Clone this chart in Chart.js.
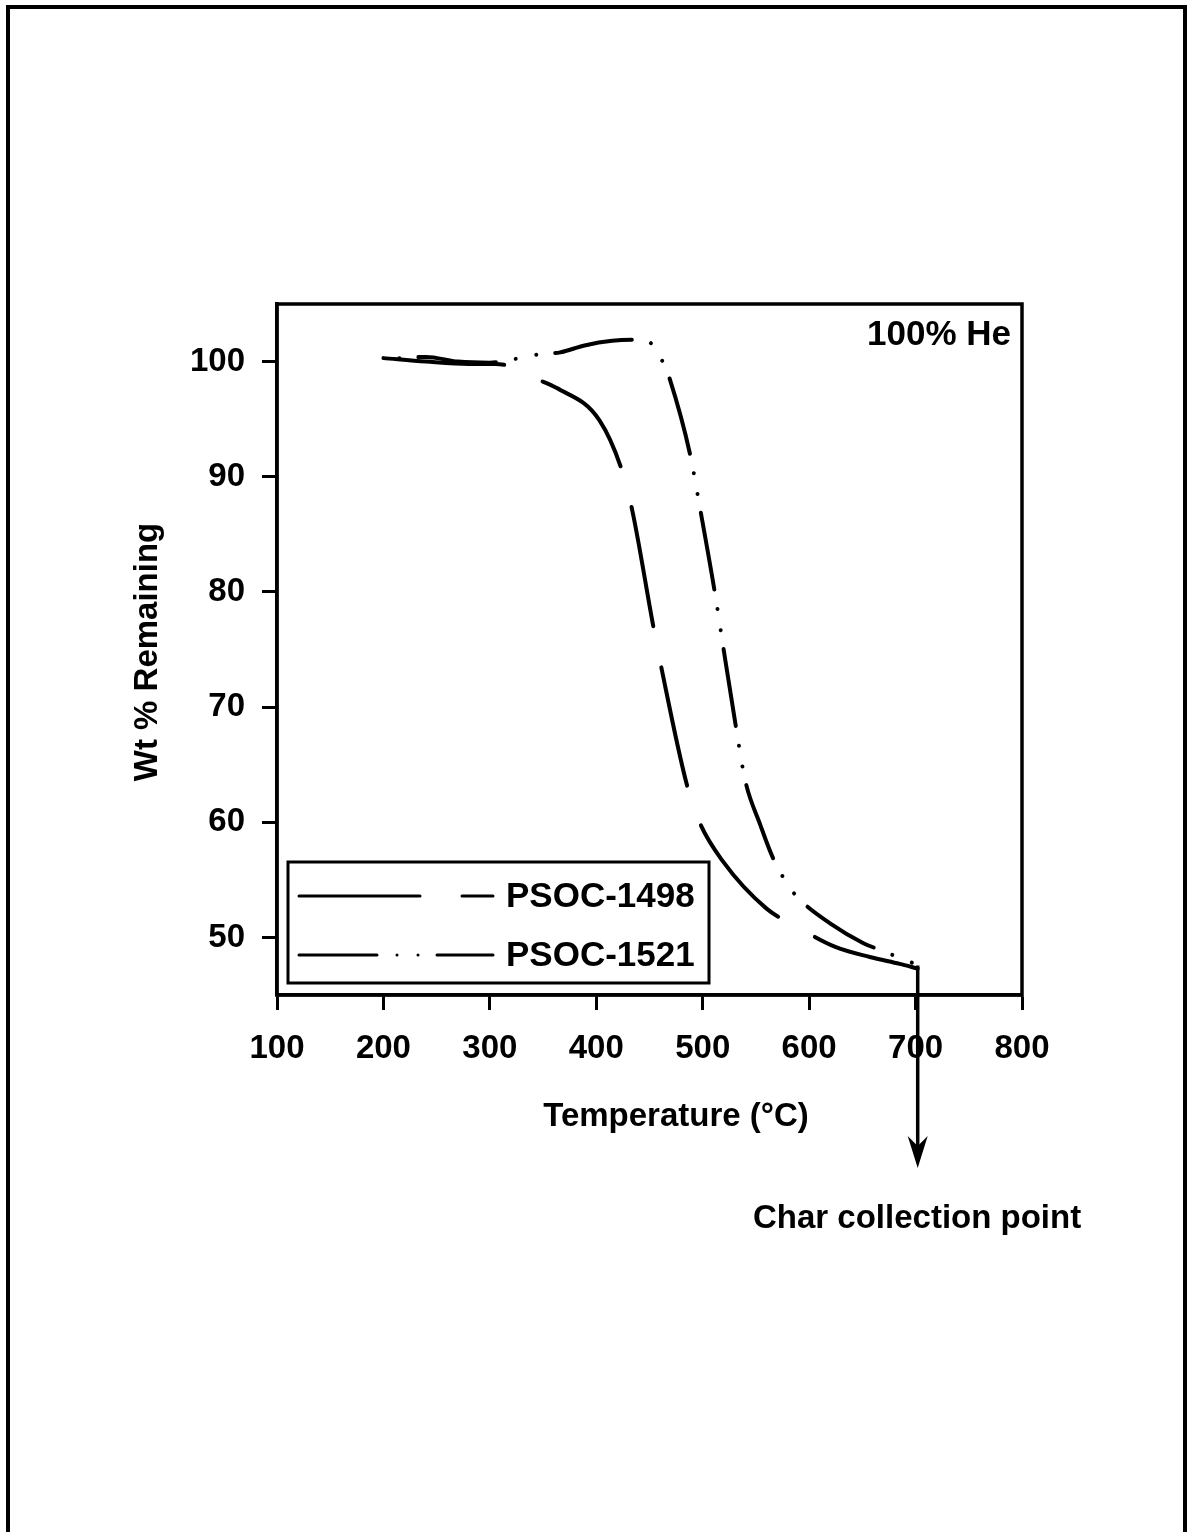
<!DOCTYPE html>
<html>
<head>
<meta charset="utf-8">
<script src="https://cdn.jsdelivr.net/npm/chart.js@4.4.0/dist/chart.umd.min.js"></script>
<style>
  html, body { margin: 0; padding: 0; background: #fff; }
  canvas { display: block; }
</style>
</head>
<body>
<canvas id="tga" width="1188" height="1532"></canvas>
<script>
// tick labels
const xTicks = [100, 200, 300, 400, 500, 600, 700, 800];
const yTicks = [50, 60, 70, 80, 90, 100];

// PSOC-1498 (long dash)
const temp1498 = [200, 240, 280, 305, 322, 341, 363, 403, 425, 434, 454, 461, 485, 497, 519, 560, 587, 624, 657, 685, 702];
const wt1498   = [100.3, 100.0, 99.8, 99.8, 99.5, 98.6, 97.7, 94.9, 90.3, 87.0, 76.8, 73.5, 63.3, 60.0, 56.6, 52.5, 51.0, 49.2, 48.3, 47.7, 47.3];

// PSOC-1521 (dash dot dot)
const temp1521 = [200, 240, 270, 300, 322, 344, 366, 389, 415, 440, 450, 457, 464, 469, 488, 498, 512, 520, 531, 540, 554, 566, 582, 591, 620, 651, 667, 702];
const wt1521   = [100.2, 100.4, 100.0, 99.9, 100.2, 100.6, 100.8, 101.4, 101.8, 101.9, 101.7, 100.8, 99.7, 98.5, 92.0, 87.0, 79.6, 74.8, 68.4, 63.6, 59.8, 56.9, 54.3, 53.3, 51.2, 49.5, 48.9, 47.6];

const seriesNames = ['PSOC-1498', 'PSOC-1521'];

const FONT = '"Liberation Sans", Arial, sans-serif';

function toPoints(xs, ys) {
  return xs.map((v, i) => ({ x: v, y: ys[i] }));
}

// frame, legend, labels and arrow
const extras = {
  id: 'extras',
  afterDraw(chart) {
    const { ctx, chartArea: a, scales: { x, y } } = chart;
    ctx.save();
    ctx.strokeStyle = '#000';
    ctx.fillStyle = '#000';

    // page frame
    ctx.lineWidth = 4;
    ctx.beginPath();
    ctx.moveTo(8, 1540);
    ctx.lineTo(8, 7);
    ctx.lineTo(1185, 7);
    ctx.lineTo(1185, 1540);
    ctx.stroke();

    // plot box
    ctx.lineWidth = 3.5;
    ctx.strokeRect(a.left, a.top, a.right - a.left, a.bottom - a.top);

    // legend
    ctx.lineWidth = 3;
    ctx.strokeRect(288, 862, 421, 121);
    ctx.font = 'bold 35px ' + FONT;
    ctx.textBaseline = 'middle';
    ctx.textAlign = 'left';
    const rows = [896, 955];
    chart.data.datasets.forEach((ds, i) => {
      ctx.save();
      ctx.lineWidth = ds.borderWidth;
      ctx.lineCap = 'round';
      ctx.setLineDash(ds.borderDash);
      ctx.beginPath();
      ctx.moveTo(299, rows[i]);
      ctx.lineTo(493, rows[i]);
      ctx.stroke();
      ctx.restore();
      ctx.fillText(ds.label, 506, rows[i] + 1);
    });

    // gas label
    ctx.textAlign = 'right';
    ctx.textBaseline = 'alphabetic';
    ctx.fillText('100% He', a.right - 11, 345);

    // axis titles
    ctx.font = 'bold 33px ' + FONT;
    ctx.textAlign = 'center';
    ctx.textBaseline = 'middle';
    ctx.fillText('Temperature (°C)', 676, 1117);
    ctx.save();
    ctx.translate(148, 652);
    ctx.rotate(-Math.PI / 2);
    ctx.fillText('Wt % Remaining', 0, 0);
    ctx.restore();

    // char collection arrow
    const ax = x.getPixelForValue(temp1521[temp1521.length - 1]);
    const ay = y.getPixelForValue(wt1498[wt1498.length - 1]);
    ctx.lineWidth = 3.5;
    ctx.beginPath();
    ctx.moveTo(ax, ay - 3);
    ctx.lineTo(ax, 1150);
    ctx.stroke();
    ctx.beginPath();
    ctx.moveTo(ax, 1168);
    ctx.lineTo(ax - 10, 1136);
    ctx.lineTo(ax, 1146);
    ctx.lineTo(ax + 10, 1136);
    ctx.closePath();
    ctx.fill();

    ctx.textAlign = 'left';
    ctx.fillText('Char collection point', 753, 1219);

    ctx.restore();
  }
};

new Chart(document.getElementById('tga'), {
  type: 'line',
  data: {
    datasets: [
      {
        label: seriesNames[0],
        data: toPoints(temp1498, wt1498),
        borderDash: [121, 42]
      },
      {
        label: seriesNames[1],
        data: toPoints(temp1521, wt1521),
        borderDash: [78, 20, 0.01, 21, 0.01, 19],
        borderDashOffset: 103
      }
    ]
  },
  options: {
    responsive: false,
    animation: false,
    devicePixelRatio: 1,
    layout: { padding: { left: 157, right: 166, top: 304, bottom: 437 } },
    elements: {
      line: {
        borderColor: '#000',
        borderWidth: 4,
        borderCapStyle: 'round',
        borderJoinStyle: 'round',
        cubicInterpolationMode: 'monotone',
        fill: false
      },
      point: { radius: 0 }
    },
    plugins: { legend: { display: false }, tooltip: { enabled: false } },
    scales: {
      x: {
        type: 'linear',
        min: 100,
        max: 800,
        afterBuildTicks: s => { s.ticks = xTicks.map(v => ({ value: v })); },
        afterFit: s => { s.height = 100; },
        grid: { drawOnChartArea: false, tickLength: 15, tickWidth: 3, tickColor: '#000' },
        border: { color: '#000', width: 3.5 },
        ticks: { color: '#000', font: { family: FONT, size: 33, weight: 'bold' }, padding: 19, maxRotation: 0, autoSkip: false }
      },
      y: {
        type: 'linear',
        min: 45,
        max: 105,
        afterBuildTicks: s => { s.ticks = yTicks.map(v => ({ value: v })); },
        afterFit: s => { s.width = 120; },
        grid: { drawOnChartArea: false, tickLength: 15, tickWidth: 3, tickColor: '#000' },
        border: { color: '#000', width: 3.5 },
        ticks: { color: '#000', font: { family: FONT, size: 33, weight: 'bold' }, padding: 17 }
      }
    }
  },
  plugins: [extras]
});
</script>
</body>
</html>
